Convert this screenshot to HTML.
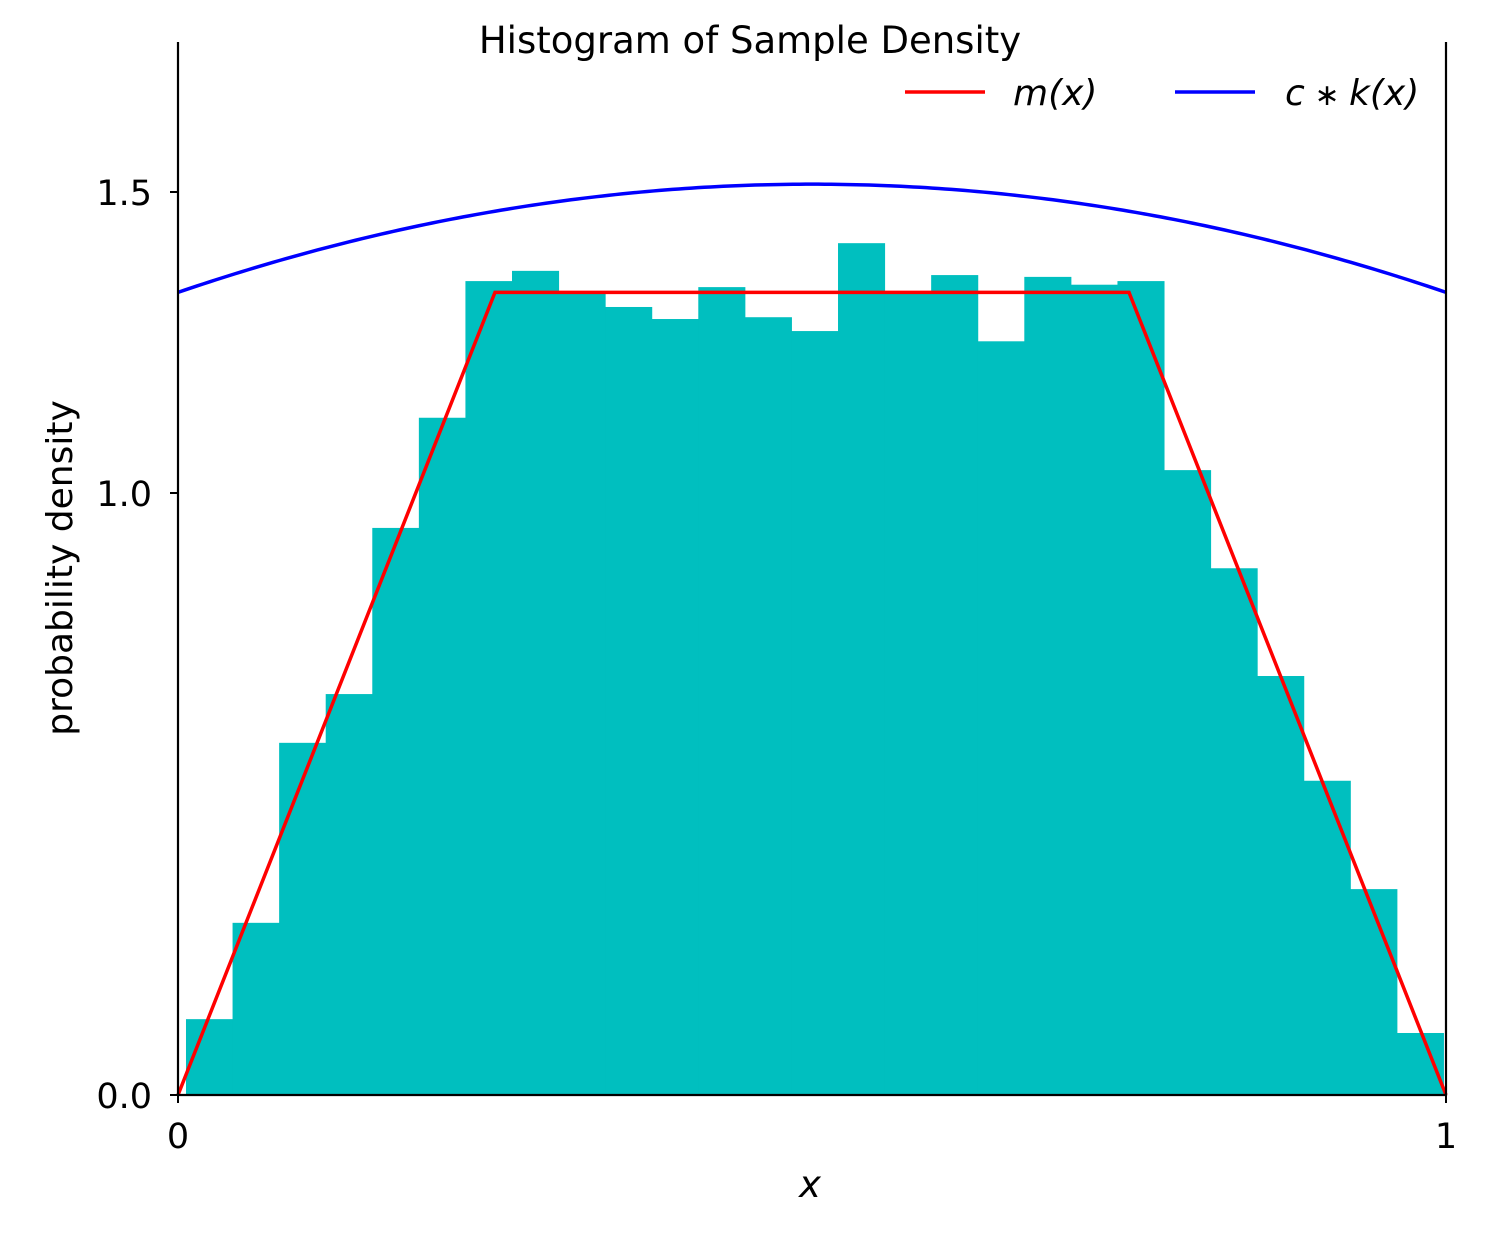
<!DOCTYPE html>
<html><head><meta charset="utf-8"><style>
body{margin:0;background:#fff}
svg{font-family:"DejaVu Sans","Liberation Sans",sans-serif}
</style></head><body>
<svg id="chart" width="1500" height="1250" xmlns="http://www.w3.org/2000/svg">
<g id="bars"></g>
<path id="mline" fill="none" stroke="#ff0000" stroke-width="3.5"/>
<path id="kline" fill="none" stroke="#0000ff" stroke-width="3.5"/>
<g stroke="#000" stroke-width="2.2">
<line x1="178" y1="42" x2="178" y2="1096"/>
<line x1="1446" y1="42" x2="1446" y2="1096"/>
<line x1="177" y1="1095" x2="1447" y2="1095"/>
</g>
<g id="ticks"></g>
<text x="750" y="53" font-size="37" text-anchor="middle">Histogram of Sample Density</text>
<text x="810" y="1197" font-size="37" font-style="italic" text-anchor="middle">x</text>
<text transform="translate(72,568) rotate(-90)" font-size="36" text-anchor="middle">probability density</text>
<g>
<g><line x1="905" y1="92" x2="985" y2="92" stroke="#ff0000" stroke-width="3.5"/><text x="1013" y="105" font-size="36" font-style="italic">m(x)</text></g>
<g><line x1="1175" y1="92" x2="1255" y2="92" stroke="#0000ff" stroke-width="3.5"/><text x="1285" y="105" font-size="36" font-style="italic">c<tspan font-size="30" font-style="normal"> ∗ </tspan>k(x)</text></g>
</g>
</svg>
<script>
const binStart = 0.0063;
const binEnd = 0.998;
const densities = [0.126,0.286,0.585,0.666,0.942,1.125,1.352,1.369,1.332,1.309,1.289,1.342,1.292,1.269,1.415,1.332,1.362,1.252,1.359,1.346,1.352,1.038,0.875,0.696,0.522,0.342,0.103];
const mX = [0,0.25,0.75,1];
const mY = [0,1.3333,1.3333,0];
const kEdge = 1.3333;
const kPeak = 1.513;
const yTicks = [0.0,1.0,1.5];
const yTickLabels = ["0.0","1.0","1.5"];
const xTicks = [0,1];
const xTickLabels = ["0","1"];
const X0=178,X1=1446,Y0=1095;
function sx(v){return X0+v*(X1-X0);}
function sy(v){return Y0-v*602;}
const NS="http://www.w3.org/2000/svg";
const bars=document.getElementById('bars');
const w=(binEnd-binStart)/densities.length;
densities.forEach((d,i)=>{
 const r=document.createElementNS(NS,'rect');
 const a=sx(binStart+i*w),b=sx(binStart+(i+1)*w);
 r.setAttribute('x',a);r.setAttribute('width',b-a+0.5);
 r.setAttribute('y',sy(d));r.setAttribute('height',Y0-sy(d));
 r.setAttribute('fill','#00bfbf');
 
 
 bars.appendChild(r);
});
document.getElementById('mline').setAttribute('d',mX.map((x,i)=>(i?'L':'M')+sx(x)+','+sy(mY[i])).join(''));
let kd='';
for(let i=0;i<=200;i++){const x=i/200;const y=kEdge+(kPeak-kEdge)*4*x*(1-x);kd+=(i?'L':'M')+sx(x)+','+sy(y);}
document.getElementById('kline').setAttribute('d',kd);
const t=document.getElementById('ticks');
yTicks.forEach((v,i)=>{
 const l=document.createElementNS(NS,'line');
 l.setAttribute('x1',X0-8);l.setAttribute('x2',X0);l.setAttribute('y1',sy(v));l.setAttribute('y2',sy(v));
 l.setAttribute('stroke','#000');l.setAttribute('stroke-width','2');
 
 
 t.appendChild(l);
 const tx=document.createElementNS(NS,'text');
 tx.setAttribute('x',X0-26);tx.setAttribute('y',sy(v)+13);tx.setAttribute('font-size','35');tx.setAttribute('text-anchor','end');
 tx.textContent=yTickLabels[i];
 
 
 t.appendChild(tx);
});
xTicks.forEach((v,i)=>{
 const l=document.createElementNS(NS,'line');
 l.setAttribute('x1',sx(v));l.setAttribute('x2',sx(v));l.setAttribute('y1',Y0);l.setAttribute('y2',Y0+8);
 l.setAttribute('stroke','#000');l.setAttribute('stroke-width','2');
 
 
 t.appendChild(l);
 const tx=document.createElementNS(NS,'text');
 tx.setAttribute('x',sx(v));tx.setAttribute('y',Y0+53);tx.setAttribute('font-size','35');tx.setAttribute('text-anchor','middle');
 tx.textContent=xTickLabels[i];
 
 
 t.appendChild(tx);
});
</script>
</body></html>
